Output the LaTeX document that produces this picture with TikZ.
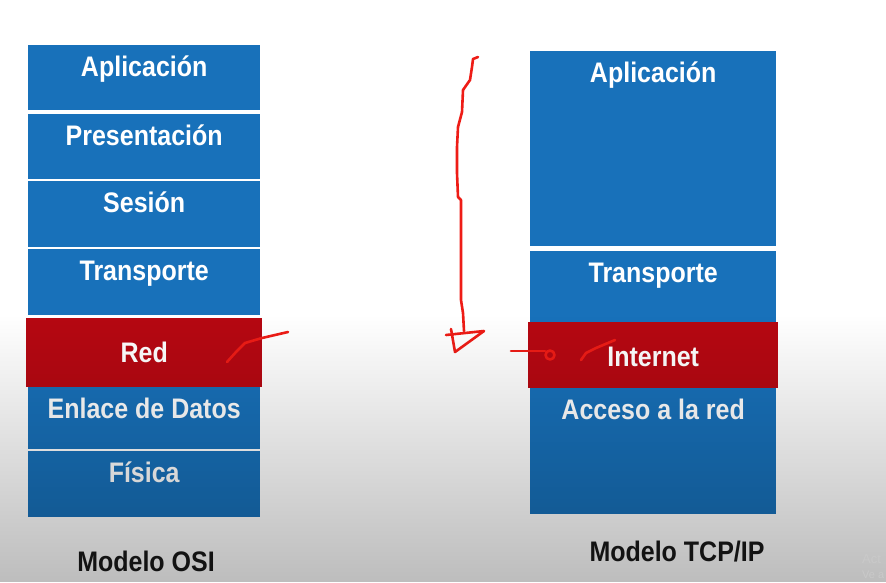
\documentclass[tikz,border=0pt]{standalone}
\usepackage{fontspec}
\setmainfont{Liberation Sans}
\usetikzlibrary{fadings}
\definecolor{CapaAzul}{RGB}{24,113,186}
\definecolor{CapaRoja}{RGB}{182,8,18}
\definecolor{Trazo}{RGB}{238,28,22}
\tikzfading[name=sombra, top color=transparent!100, bottom color=transparent!74]
\newcommand{\alto}[1]{\scalebox{1}[1.13]{#1}}

\begin{document}
\begin{tikzpicture}[x=1pt, y=-1pt,
  capa/.style={fill=CapaAzul, text=white, font=\fontsize{25}{30}\selectfont\bfseries,
    inner xsep=0pt, inner ysep=0pt, anchor=north west, text height=31pt},
  resaltada/.style={capa, fill=CapaRoja},
  modelo/.style={text=black!90, font=\fontsize{25}{30}\selectfont\bfseries},
  trazo/.style={Trazo, line width=2.6pt, line cap=round, line join=round}]
  \useasboundingbox (0,0) rectangle (886,582);
  \fill[white] (0,0) rectangle (886,582);

  % Modelo OSI
  \foreach \nombre/\y/\h [count=\i, evaluate=\h as \d using \h-31] in
    {Aplicación/45/65, Presentación/114/65, Sesión/181/66, Transporte/249/66,
     Enlace de Datos/387/62, Física/451/66}
    \node[capa, minimum width=232pt, minimum height=\h pt, text depth=\d pt] (osi\i) at (28,\y) {\alto{\nombre}};
  \node[resaltada, minimum width=236pt, minimum height=69pt, text height=44pt, text depth=25pt] (osiRed) at (26,318) {\alto{Red}};

  % Modelo TCP/IP
  \foreach \nombre/\y/\h [count=\i, evaluate=\h as \d using \h-31] in
    {Aplicación/51/195, Transporte/251/71, Acceso a la red/388/126}
    \node[capa, minimum width=246pt, minimum height=\h pt, text depth=\d pt] (tcp\i) at (530,\y) {\alto{\nombre}};
  \node[resaltada, minimum width=250pt, minimum height=66pt, text height=44pt, text depth=22pt] (tcpInternet) at (528,322) {\alto{Internet}};

  % Titulos
  \node[modelo] (tituloOSI) at (146,561) {\alto{Modelo OSI}};
  \node[modelo] (tituloTCP) at (677,552) {\alto{Modelo TCP/IP}};

  % Trazos a mano
  \draw[trazo] (478,57) -- (473,59) -- (472,67) -- (470,80) -- (463,90) -- (462,112)
    -- (458,127) -- (457,147) -- (457,173) -- (458,197) -- (461,200) -- (461,300)
    -- (463,313) -- (464,331);
  \draw[trazo] (446,335) -- (484,331) -- (455,352) -- (451,329);
  \draw[trazo] (227,362) -- (236,352) -- (245,343) -- (262,338) -- (288,332);
  \draw[trazo] (511,351) -- (545,351);
  \draw[trazo] (550,355) circle (4.5);
  \draw[trazo] (581,360) -- (586,353) -- (596,348) -- (615,340);

  % Sombra inferior
  \fill[black, path fading=sombra] (0,315) rectangle (886,582);

  % Aviso
  \node[text=gray!42, font=\fontsize{13}{13}\selectfont, anchor=west, inner sep=0pt] (aviso1) at (862,559) {Act};
  \node[text=gray!42, font=\fontsize{11}{11}\selectfont, anchor=west, inner sep=0pt] (aviso2) at (862,575) {Ve a};
\end{tikzpicture}
\end{document}
